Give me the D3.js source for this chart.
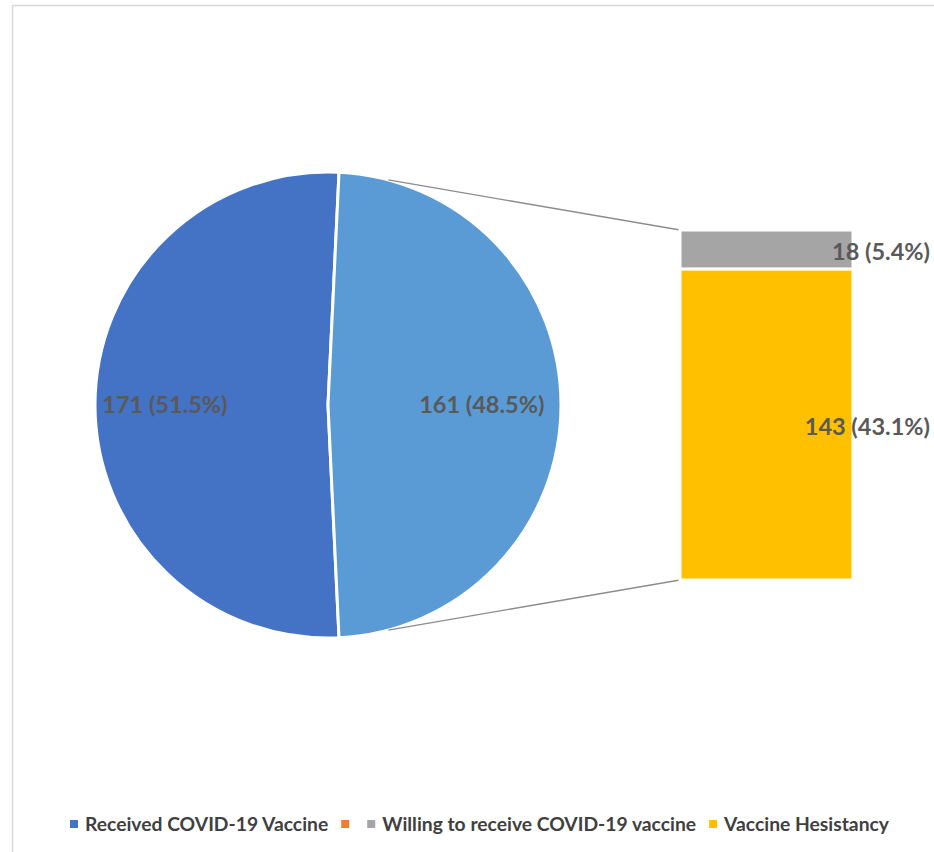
<script src="https://d3js.org/d3.v7.min.js"></script>
<style>
  body { margin: 0; background: #fff; }
  text { font-family: Lato, "Open Sans", sans-serif; font-weight: bold; }
</style>
<body>
<script>
// Size
const W = 934, H = 852;

// Data
const pieLabels = ["Received COVID-19 Vaccine", "Not received"];
const pieValues = [171, 161];
const piePct    = ["51.5%", "48.5%"];

const barLabels = ["Willing to receive COVID-19 vaccine", "Vaccine Hesistancy"];
const barValues = [18, 143];
const barPct    = ["5.4%", "43.1%"];

const legendLabels = ["Received COVID-19 Vaccine", "", "Willing to receive COVID-19 vaccine", "Vaccine Hesistancy"];
const legendColors = ["#4472C4", "#ED7D31", "#A5A5A5", "#FFC000"];

const svg = d3.select("body").append("svg")
  .attr("width", W).attr("height", H);

// chart frame
svg.append("rect")
  .attr("x", 12.5).attr("y", 5.5)
  .attr("width", W + 20).attr("height", H + 20)
  .attr("fill", "none").attr("stroke", "#d9d9d9").attr("stroke-width", 1.5);

// Pie
const cx = 328, cy = 405, r = 233;
const total = d3.sum(pieValues);
const secondAngle = 2 * Math.PI * pieValues[1] / total;
// second slice centered at 3 o'clock
const startA = Math.PI / 2 - secondAngle / 2;

const pie = d3.pie().sort(null)
  .startAngle(startA + secondAngle - 2 * Math.PI)
  .endAngle(startA + secondAngle);
const arcs = pie(pieValues);
const arc = d3.arc().innerRadius(0).outerRadius(r);
const labelR = [0.70, 0.66];
const pieColors = ["#4472C4", "#5B9BD5"];

const gPie = svg.append("g").attr("transform", `translate(${cx},${cy})`);
gPie.selectAll("path").data(arcs).join("path")
  .attr("d", arc)
  .attr("fill", (d, i) => pieColors[i])
  .attr("stroke", "#fff").attr("stroke-width", 3);

gPie.selectAll("text").data(arcs).join("text")
  .attr("transform", (d, i) => {
    const la = d3.arc().innerRadius(r * labelR[i]).outerRadius(r * labelR[i]);
    return `translate(${la.centroid(d)})`;
  })
  .attr("text-anchor", "middle").attr("dy", "0.35em")
  .attr("font-size", 23.5).attr("fill", "#595959")
  .text((d, i) => `${pieValues[i]} (${piePct[i]})`);

// Bar (stack)
const bx = 680, bw = 173;
const y = d3.scaleLinear().domain([0, d3.sum(barValues)]).range([230, 580]);
const stack = d3.cumsum([0, ...barValues]);
const barColors = ["#A5A5A5", "#FFC000"];

// connector lines
const tA = 15 * Math.PI / 180;
const topPt = [cx + r * Math.sin(tA), cy - r * Math.cos(tA)];
const botPt = [cx + r * Math.sin(tA), cy + r * Math.cos(tA)];
svg.append("line")
  .attr("x1", topPt[0]).attr("y1", topPt[1])
  .attr("x2", bx).attr("y2", y(0))
  .attr("stroke", "#8c8c8c").attr("stroke-width", 1.3);
svg.append("line")
  .attr("x1", botPt[0]).attr("y1", botPt[1])
  .attr("x2", bx).attr("y2", y(stack[2]))
  .attr("stroke", "#8c8c8c").attr("stroke-width", 1.3);

svg.selectAll("rect.bar").data(barValues).join("rect")
  .attr("class", "bar")
  .attr("x", bx).attr("width", bw)
  .attr("y", (d, i) => y(stack[i]))
  .attr("height", d => y(d) - y(0))
  .attr("fill", (d, i) => barColors[i])
  .attr("stroke", "#fff").attr("stroke-width", 3);

svg.selectAll("text.blab").data(barValues).join("text")
  .attr("class", "blab")
  .attr("x", 930)
  .attr("y", (d, i) => (y(stack[i]) + y(stack[i + 1])) / 2 + 2)
  .attr("text-anchor", "end").attr("dy", "0.35em")
  .attr("font-size", 23.5).attr("fill", "#595959")
  .text((d, i) => `${d} (${barPct[i]})`);

// Legend
const leg = svg.append("g").attr("transform", "translate(70,824)");
let lx = 0;
legendLabels.forEach((lab, i) => {
  leg.append("rect").attr("x", lx).attr("y", -4).attr("width", 8).attr("height", 8)
    .attr("fill", legendColors[i]);
  const t = leg.append("text").attr("x", lx + 15).attr("dy", "0.35em")
    .attr("font-size", 19.3).attr("fill", "#404040").text(lab);
  const w = lab ? t.node().getComputedTextLength() : -2;
  lx += 15 + w + 13;
});
</script>
</body>
